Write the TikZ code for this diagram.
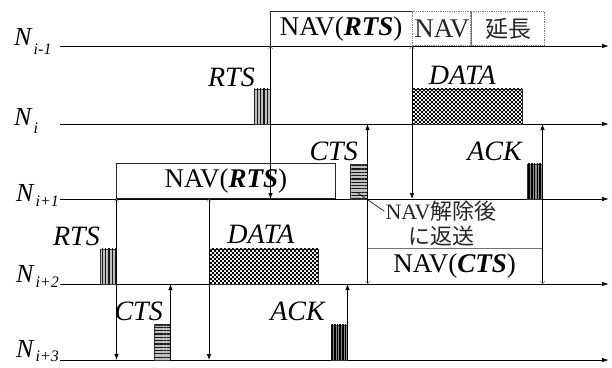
\documentclass[tikz,border=0pt]{standalone}
\usepackage{fontspec}
\setmainfont{Liberation Serif}
\newfontfamily\jpfont{Noto Sans CJK JP}
\usetikzlibrary{arrows.meta,positioning,calc,patterns,patterns.meta}
\newcommand\navfont{\fontsize{27}{30}\selectfont}
\newcommand\lblfont{\fontsize{28}{30}\selectfont}
\newcommand\notefont{\fontsize{22}{25}\selectfont}
\newcommand\nodelab[2][7pt]{\textit{N}\kern1pt\raisebox{-#1}{\fontsize{16}{16}\selectfont\itshape #2}}
\tikzdeclarepattern{
  name=chk,
  type=uncolored,
  bottom left={(0pt,0pt)},
  top right={(4.4pt,4.4pt)},
  tile size={(4.4pt,4.4pt)},
  code={
    \fill (0pt,0pt) rectangle (2.2pt,2.2pt);
    \fill (2.2pt,2.2pt) rectangle (4.4pt,4.4pt);
  }
}
\tikzset{
  fh/.tip={Latex[length=6pt,width=4.5pt]},
  oh/.tip={Straight Barb[length=2.5pt,width=5pt,line width=0.5pt,color=black!55]},
  figbase/.style={x=1pt, y=-1pt, line join=miter},
  tline/.style={-{Latex[length=7pt,width=4.5pt]}, line width=0.9pt},
  vdn/.style={{oh}-{fh}, line width=0.8pt},
  vup/.style={{fh}-{oh}, line width=0.8pt},
  vto/.style={-{fh}, line width=0.8pt},
  blk/.style={draw=black!80, line width=0.5pt, anchor=south west, inner sep=0pt,
    minimum width=16pt, minimum height=35pt},
  rtsblk/.style={blk, fill=black!25,
    postaction={pattern={Lines[angle=90,distance=3.3pt,line width=1.2pt]}, pattern color=black!90}},
  ctsblk/.style={blk, fill=black!25,
    postaction={pattern={Lines[angle=0,distance=3.3pt,line width=1.2pt]}, pattern color=black!90}},
  ackblk/.style={blk, fill=black!45,
    postaction={pattern={Lines[angle=90,distance=2.7pt,line width=1.5pt]}, pattern color=black}},
  datablk/.style={blk, fill=white, postaction={pattern=chk, pattern color=black}},
  lbl/.style={font=\lblfont\itshape, inner sep=0pt},
  navbox/.style={font=\navfont, inner sep=0pt, anchor=south west, minimum height=35pt},
  navline/.style={draw=black!85, line width=0.8pt},
  extbox/.style={navbox, draw=black!50, densely dotted, line width=0.8pt, minimum height=34pt,
    text=black!85},
  nlab/.style={font=\fontsize{26}{26}\selectfont, inner sep=0pt, anchor=base west},
}
\begin{document}
\begin{tikzpicture}[figbase]
  \useasboundingbox (0,0) rectangle (612,367);

  % timelines
  \foreach \n/\y in {a/46,b/124,c/199,d/284,e/360} {
    \coordinate (\n0) at (60,\y);
    \coordinate (\n1) at (609,\y);
    \draw[tline] (\n0) -- (\n1);
  }
  \node[nlab] (na) at (14,45) {\nodelab[9pt]{i-1}};
  \node[nlab] (nb) at (14,125) {\nodelab[8pt]{i}};
  \node[nlab] (nc) at (16,201) {\nodelab[5pt]{i+1}};
  \node[nlab] (nd) at (16,282) {\nodelab[5pt]{i+2}};
  \node[nlab] (ne) at (16,357) {\nodelab[4pt]{i+3}};

  % N_{i-1}: NAV set by RTS, then extended
  \node[navbox, minimum width=142pt, minimum height=34pt] (navA) at (270,46) {NAV(\textbf{\textit{RTS}})};
  \draw[navline] (navA.north east) -- (navA.north west) -- (navA.south west);
  \node[extbox, minimum width=58pt] (extA) at (navA.south east) {NAV};
  \node[extbox, minimum width=73pt, right=0pt of extA] (extB) {\jpfont\fontsize{23}{25}\selectfont 延長};
  \draw[black!55, line width=0.7pt] (extA.north east) -- (extA.south east);

  % N_i
  \node[rtsblk] (rtsB) at (254,124) {};
  \node[lbl, above left=2pt and -1pt of rtsB] (rtsBl) {RTS};
  \node[datablk, minimum width=110pt] (dataB) at (412,124) {};
  \node[lbl, above=4pt of dataB, xshift=-5pt] (dataBl) {DATA};

  % N_{i+1}
  \node[navbox, navline, draw, minimum width=219pt] (navC) at (116,199) {NAV(\textbf{\textit{RTS}})};
  \node[ctsblk, minimum width=17pt] (ctsC) at (350,199) {};
  \node[lbl, above left=3pt and -8pt of ctsC] (ctsCl) {CTS};
  \node[ackblk, minimum width=15pt] (ackC) at (527,199) {};
  \node[lbl, above left=3pt and 5pt of ackC] (ackCl) {ACK};

  % N_{i+2}
  \node[rtsblk] (rtsD) at (100,284) {};
  \node[lbl, above left=3pt and 0pt of rtsD] (rtsDl) {RTS};
  \node[datablk, minimum width=109pt] (dataD) at (209,284) {};
  \node[lbl, above=5pt of dataD, xshift=-3pt] (dataDl) {DATA};
  \node[navbox, minimum width=175pt] (navD) at (367,284) {NAV(\textbf{\textit{CTS}})};
  \draw[black!55, line width=0.8pt] (navD.north west) -- (navD.north east);
  \node[font=\notefont, align=center, inner sep=0pt, text=black!85] (note) at (441,224)
    {NAV{\jpfont 解除後}\\{\jpfont に返送}};
  \draw[line width=0.6pt] ($(ctsC.south)+(-1,-6)$) -- ($(note.north west)+(-1,10)$);

  % N_{i+3}
  \node[ctsblk] (ctsE) at (154,360) {};
  \node[lbl, above left=4pt and -9pt of ctsE] (ctsEl) {CTS};
  \node[ackblk] (ackE) at (331,360) {};
  \node[lbl, above left=4pt and 6pt of ackE] (ackEl) {ACK};

  % frames received by neighbours
  \draw[vdn] (rtsB.south east |- a0) -- (rtsB.south east |- c0);
  \draw[vdn] (dataB.south west |- a0) -- (dataB.south west |- c0);
  \draw[vup] (ctsC.south east |- b0) -- (ctsC.south east |- d0);
  \draw[vup] (ackC.south east |- b0) -- (ackC.south east |- d0);
  \draw[vdn] (rtsD.south east |- c0) -- (rtsD.south east |- e0);
  \draw[vdn] (dataD.south west |- c0) -- (dataD.south west |- e0);
  \draw[vto] (ctsE.south east) -- (ctsE.south east |- d0);
  \draw[vto] (ackE.south east) -- (ackE.south east |- d0);
\end{tikzpicture}
\end{document}
